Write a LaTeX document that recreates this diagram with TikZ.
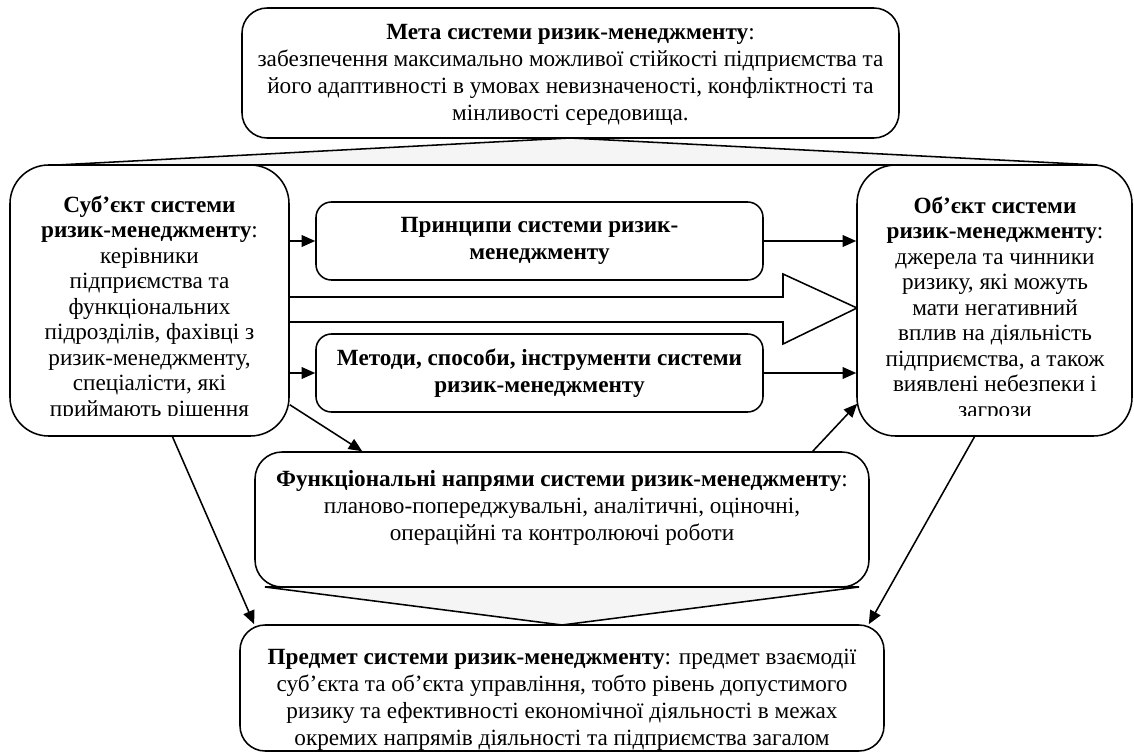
\documentclass[tikz,border=0pt]{standalone}
\usepackage{fontspec}
\setmainfont{Liberation Serif}
\usetikzlibrary{arrows.meta,calc}
\newcommand{\pxu}{0.517pt}

\begin{document}
\begin{tikzpicture}[x=0.517pt,y=-0.517pt,
		box/.style={draw,line width=0.8pt,fill=white,inner sep=0pt,align=center},
		wedge/.style={draw,line width=0.8pt,fill=black!4,line join=miter},
		arr/.style={line width=0.8pt,-{Triangle[length=7pt,width=6pt]}},
		txt/.style={inner sep=0pt,align=center,anchor=north},
		sidetxt/.style={txt,font=\fontsize{12pt}{13.2pt}\selectfont}]
		\tikzstyle{every node}+=[font=\fontsize{12pt}{14pt}\selectfont]
		\useasboundingbox (0,0) rectangle (1134,754);
		% wedges behind the boxes
		\filldraw[wedge] (570,138) -- (57,165) -- (1097,165) -- cycle;
		\filldraw[wedge] (265,587) -- (859,587) -- (562,625) -- cycle;
		% hollow arrow
		\draw[line width=0.8pt,fill=white] (289,297) -- (783,297) -- (783,274) -- (857,308) -- (783,344) -- (783,322) -- (289,322);
		% boxes
		\node[box,rounded corners=13pt,minimum width=657*\pxu,minimum height=130*\pxu] (meta) at (570.5,73) {};
		\node[box,rounded corners=20pt,minimum width=279*\pxu,minimum height=271*\pxu] (subj) at (149.5,300.5) {};
		\node[box,rounded corners=20pt,minimum width=275*\pxu,minimum height=271*\pxu] (obj) at (994.5,300.5) {};
		\node[box,rounded corners=8pt,minimum width=447*\pxu,minimum height=78*\pxu] (princ) at (539.5,241)
			{\textbf{Принципи системи ризик-}\\ \textbf{менеджменту}};
		\node[box,rounded corners=8pt,minimum width=447*\pxu,minimum height=78*\pxu] (meth) at (539.5,373)
			{\textbf{Методи, способи, інструменти системи}\\ \textbf{ризик-менеджменту}};
		\node[box,rounded corners=14pt,minimum width=614*\pxu,minimum height=135*\pxu] (func) at (562,519.5) {};
		\node[box,rounded corners=13pt,minimum width=644*\pxu,minimum height=126*\pxu] (pred) at (562,688) {};
		% texts
		\node[txt] (metatext) at (570.5,24)
			{\textbf{Мета системи ризик-менеджменту}:\\
			забезпечення максимально можливої стійкості підприємства та\\
			його адаптивності в умовах невизначеності, конфліктності та\\
			мінливості середовища.};
		\node[txt] (functext) at (562,470)
			{\textbf{Функціональні напрями системи ризик-менеджменту}:\\
			планово-попереджувальні, аналітичні, оціночні,\\
			операційні та контролюючі роботи};
		\node[txt] (predtext) at (562,649)
			{\textbf{Предмет системи ризик-менеджменту}: предмет взаємодії\\
			суб’єкта та об’єкта управління, тобто рівень допустимого\\
			ризику та ефективності економічної діяльності в межах\\
			окремих напрямів діяльності та підприємства загалом};
		% side texts, cut at the bottom
		\begin{scope}
			\clip (10,165) rectangle (1133,415);
			\node[sidetxt] (subjtext) at (149.5,195)
				{\textbf{Суб’єкт системи}\\ \textbf{ризик-менеджменту}:\\ керівники\\ підприємства та\\
				функціональних\\ підрозділів, фахівці з\\ ризик-менеджменту,\\ спеціалісти, які\\ приймають рішення};
			\node[sidetxt] (objtext) at (995,196)
				{\textbf{Об’єкт системи}\\ \textbf{ризик-менеджменту}:\\ джерела та чинники\\ ризику, які можуть\\
				мати негативний\\ вплив на діяльність\\ підприємства, а також\\ виявлені небезпеки і\\ загрози};
		\end{scope}
		% connectors
		\draw[arr] (subj.east |- princ.west) -- (princ.west);
		\draw[arr] (princ.east) -- (obj.west |- princ.east);
		\draw[arr] (subj.east |- meth.west) -- (meth.west);
		\draw[arr] (meth.east) -- (obj.west |- meth.east);
		\draw[arr] ($(subj.south east)+(0,-32)$) -- ($(func.north west)+(108,0)$);
		\draw[arr] ($(func.north east)+(-57,0)$) -- ($(obj.south west)+(1,-33)$);
		\draw[arr] ($(subj.south)+(23,0)$) -- ($(pred.north west)+(15,0)$);
		\draw[arr] ($(obj.south)+(-20,0)$) -- ($(pred.north east)+(-16,0)$);
\end{tikzpicture}
\end{document}
